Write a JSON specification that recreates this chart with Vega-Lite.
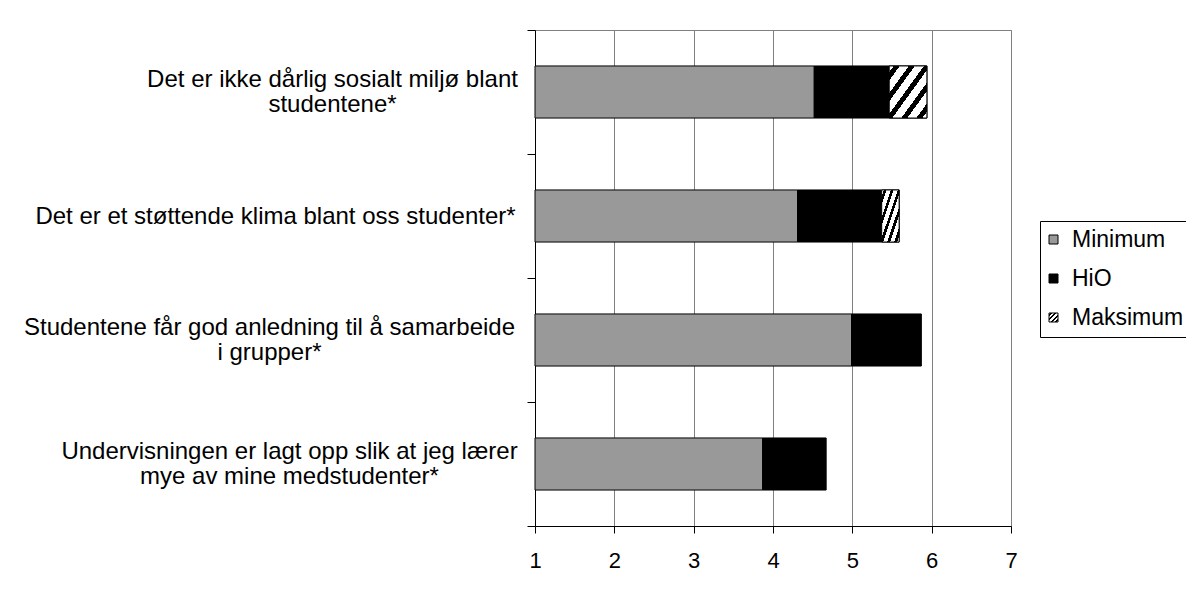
{
  "$schema": "https://vega.github.io/schema/vega-lite/v6.json",
  "width": 476,
  "height": 496,
  "autosize": {"type": "none"},
  "padding": {"left": 535, "top": 30, "right": 175, "bottom": 69},
  "background": "white",
  "config": {
    "font": "Liberation Sans",
    "view": {"stroke": "#808080", "strokeWidth": 1}
  },
  "data": {
    "values": [
      {"q": "Det er ikke dårlig sosialt miljø blant studentene*", "serie": "Minimum", "fra": 1, "til": 4.52},
      {"q": "Det er ikke dårlig sosialt miljø blant studentene*", "serie": "HiO", "fra": 4.52, "til": 5.465},
      {"q": "Det er ikke dårlig sosialt miljø blant studentene*", "serie": "Maksimum", "fra": 5.465, "til": 5.94},
      {"q": "Det er et støttende klima blant oss studenter*", "serie": "Minimum", "fra": 1, "til": 4.31},
      {"q": "Det er et støttende klima blant oss studenter*", "serie": "HiO", "fra": 4.31, "til": 5.37},
      {"q": "Det er et støttende klima blant oss studenter*", "serie": "Maksimum", "fra": 5.37, "til": 5.59},
      {"q": "Studentene får god anledning til å samarbeide i grupper*", "serie": "Minimum", "fra": 1, "til": 4.99},
      {"q": "Studentene får god anledning til å samarbeide i grupper*", "serie": "HiO", "fra": 4.99, "til": 5.87},
      {"q": "Undervisningen er lagt opp slik at jeg lærer mye av mine medstudenter*", "serie": "Minimum", "fra": 1, "til": 3.87},
      {"q": "Undervisningen er lagt opp slik at jeg lærer mye av mine medstudenter*", "serie": "HiO", "fra": 3.87, "til": 4.67}
    ]
  },
  "encoding": {
    "y": {
      "field": "q",
      "type": "nominal",
      "sort": null,
      "scale": {"paddingInner": 0, "paddingOuter": 0},
      "axis": {
        "title": null,
        "tickBand": "extent",
        "tickSize": 8,
        "tickColor": "black",
        "domainColor": "black",
        "labelFontSize": 24,
        "labelColor": "black",
        "labelLimit": 0,
        "labelAlign": "center",
        "labelBaseline": "middle",
        "labelLineHeight": 25,
        "labelPadding": {"expr": "datum.value == 'Det er ikke dårlig sosialt miljø blant studentene*' ? 195 : datum.value == 'Det er et støttende klima blant oss studenter*' ? 252 : datum.value == 'Studentene får god anledning til å samarbeide i grupper*' ? 258 : 238"},
        "labelOffset": {"expr": "datum.value == 'Det er et støttende klima blant oss studenter*' ? 0 : -12.5"},
        "labelExpr": "datum.value == 'Det er ikke dårlig sosialt miljø blant studentene*' ? ['Det er ikke dårlig sosialt miljø blant', 'studentene*'] : datum.value == 'Studentene får god anledning til å samarbeide i grupper*' ? ['Studentene får god anledning til å samarbeide', 'i grupper*'] : datum.value == 'Undervisningen er lagt opp slik at jeg lærer mye av mine medstudenter*' ? ['Undervisningen er lagt opp slik at jeg lærer', 'mye av mine medstudenter*'] : datum.value"
      }
    },
    "x": {
      "field": "fra",
      "type": "quantitative",
      "scale": {"domain": [1, 7], "nice": false, "zero": false},
      "axis": {
        "title": null,
        "values": [1, 2, 3, 4, 5, 6, 7],
        "format": "d",
        "grid": true,
        "gridColor": "#808080",
        "domainColor": "black",
        "tickColor": "black",
        "tickSize": 7,
        "labelFontSize": 22,
        "labelColor": "black",
        "labelPadding": 17,
        "labelFlush": false
      }
    },
    "x2": {"field": "til"}
  },
  "layer": [
    {
      "mark": {"type": "bar", "stroke": "black", "strokeWidth": 1, "height": {"band": 0.42}},
      "encoding": {
        "color": {
          "field": "serie",
          "type": "nominal",
          "sort": ["Minimum", "HiO", "Maksimum"],
          "scale": {
            "domain": ["Minimum", "HiO", "Maksimum"],
            "range": [
              "#999999",
              "#000000",
              {"expr": "{gradient: 'linear', x1: 0, y1: 0, x2: 1, y2: 1, stops: [{offset: 0, color: 'white'}, {offset: 0.08, color: 'white'}, {offset: 0.08, color: 'black'}, {offset: 0.17, color: 'black'}, {offset: 0.17, color: 'white'}, {offset: 0.33, color: 'white'}, {offset: 0.33, color: 'black'}, {offset: 0.42, color: 'black'}, {offset: 0.42, color: 'white'}, {offset: 0.58, color: 'white'}, {offset: 0.58, color: 'black'}, {offset: 0.67, color: 'black'}, {offset: 0.67, color: 'white'}, {offset: 0.83, color: 'white'}, {offset: 0.83, color: 'black'}, {offset: 0.92, color: 'black'}, {offset: 0.92, color: 'white'}, {offset: 1, color: 'white'}]}"}
            ]
          },
          "legend": {
            "title": null,
            "orient": "none",
            "legendX": 505,
            "legendY": 191,
            "padding": 7,
            "strokeColor": "black",
            "fillColor": "white",
            "symbolType": "square",
            "symbolSize": 81,
            "symbolOffset": -5,
            "symbolStrokeColor": "black",
            "symbolStrokeWidth": 1,
            "symbolOpacity": 1,
            "labelFontSize": 23,
            "labelColor": "black",
            "labelOffset": 7,
            "rowPadding": 15,
            "labelExpr": "datum.label + '\u00a0\u00a0'",
            "encode": {
              "symbols": {
                "update": {
                  "stroke": {"value": "black"},
                  "strokeWidth": {"value": 1},
                  "opacity": {"value": 1}
                }
              }
            }
          }
        }
      }
    },
    {
      "transform": [{"filter": "datum.serie == 'Maksimum'"}],
      "mark": {
        "type": "bar",
        "stroke": "black",
        "strokeWidth": 1,
        "height": {"band": 0.42},
        "fill": {
          "gradient": "linear",
          "x1": 0, "y1": 0, "x2": 1, "y2": 1,
          "stops": [
            {"offset": 0, "color": "white"},
            {"offset": 0.06, "color": "white"},
            {"offset": 0.06, "color": "black"},
            {"offset": 0.14, "color": "black"},
            {"offset": 0.14, "color": "white"},
            {"offset": 0.26, "color": "white"},
            {"offset": 0.26, "color": "black"},
            {"offset": 0.34, "color": "black"},
            {"offset": 0.34, "color": "white"},
            {"offset": 0.46, "color": "white"},
            {"offset": 0.46, "color": "black"},
            {"offset": 0.54, "color": "black"},
            {"offset": 0.54, "color": "white"},
            {"offset": 0.66, "color": "white"},
            {"offset": 0.66, "color": "black"},
            {"offset": 0.74, "color": "black"},
            {"offset": 0.74, "color": "white"},
            {"offset": 0.86, "color": "white"},
            {"offset": 0.86, "color": "black"},
            {"offset": 0.94, "color": "black"},
            {"offset": 0.94, "color": "white"},
            {"offset": 1, "color": "white"}
          ]
        }
      }
    }
  ]
}
